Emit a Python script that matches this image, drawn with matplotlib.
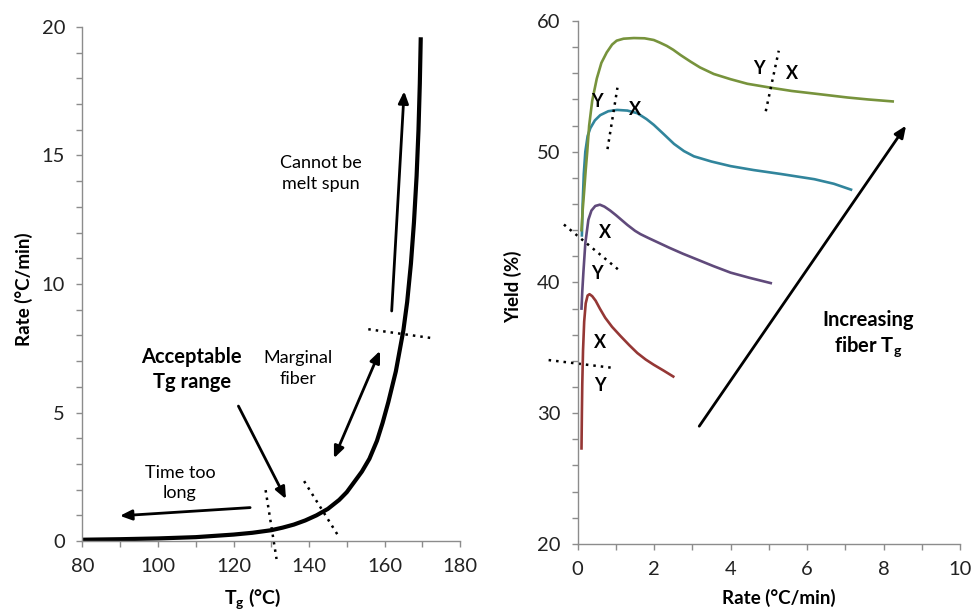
"""Melt-spinning window: rate vs Tg, and yield vs rate for increasing fiber Tg."""

import matplotlib
matplotlib.use("Agg")
import matplotlib.pyplot as plt

plt.rcParams["font.family"] = ["Lato", "DejaVu Sans"]

# left panel: rate needed vs fiber Tg
tg = [80, 90, 100, 110, 115, 120, 125, 130, 133, 136, 139, 142, 145, 148,
      150, 152, 154, 156, 158, 159.5, 161, 162, 163, 164, 165, 166, 167,
      167.8, 168.5, 169, 169.35, 169.6]
rate = [0.05, 0.07, 0.1, 0.15, 0.2, 0.25, 0.32, 0.42, 0.52, 0.64, 0.8, 1.0,
        1.25, 1.6, 1.9, 2.3, 2.7, 3.2, 3.9, 4.6, 5.4, 6.0, 6.6, 7.4, 8.2,
        9.3, 10.8, 12.4, 14.2, 16.0, 17.8, 19.6]

# right panel: yield curves, lowest Tg first
red_x = [0.10, 0.11, 0.12, 0.14, 0.17, 0.21, 0.26, 0.31, 0.38, 0.47, 0.58,
         0.72, 0.9, 1.12, 1.35, 1.56, 1.78, 1.99, 2.25, 2.5]
red_y = [27.3, 30.0, 32.2, 34.8, 37.0, 38.4, 39.0, 39.1, 38.95, 38.6, 38.0,
         37.3, 36.6, 35.9, 35.2, 34.6, 34.1, 33.7, 33.25, 32.8]
purple_x = [0.10, 0.12, 0.15, 0.20, 0.28, 0.36, 0.46, 0.58, 0.70, 0.85, 1.0,
            1.12, 1.3, 1.5, 1.64, 1.85, 2.07, 2.4, 2.75, 3.13, 3.55, 4.0,
            4.5, 5.05]
purple_y = [38.0, 39.3, 40.8, 43.0, 44.8, 45.5, 45.85, 45.95, 45.8, 45.5,
            45.15, 44.85, 44.4, 43.95, 43.7, 43.4, 43.1, 42.65, 42.2, 41.75,
            41.25, 40.75, 40.35, 39.95]
blue_x = [0.11, 0.13, 0.16, 0.20, 0.26, 0.33, 0.45, 0.59, 0.8, 1.03, 1.3,
          1.56, 1.8, 1.99, 2.25, 2.52, 2.78, 3.04, 3.5, 4.0, 4.6, 5.31, 6.19,
          6.7, 7.15]
blue_y = [43.6, 46.0, 48.3, 50.0, 51.2, 51.8, 52.4, 52.8, 53.1, 53.2, 53.15,
          52.95, 52.5, 52.06, 51.35, 50.6, 50.05, 49.65, 49.25, 48.9, 48.6,
          48.3, 47.9, 47.55, 47.1]
green_x = [0.10, 0.13, 0.17, 0.21, 0.25, 0.30, 0.38, 0.50, 0.62, 0.76, 0.9,
           1.02, 1.2, 1.47, 1.75, 1.99, 2.15, 2.33, 2.5, 2.69, 2.95, 3.2,
           3.56, 4.0, 4.44, 5.05, 5.6, 6.19, 7.06, 7.6, 8.24]
green_y = [44.0, 45.5, 47.0, 48.6, 50.0, 52.0, 53.9, 55.6, 56.8, 57.6, 58.2,
           58.5, 58.65, 58.7, 58.68, 58.55, 58.35, 58.1, 57.8, 57.4, 56.9,
           56.45, 55.95, 55.55, 55.2, 54.9, 54.65, 54.45, 54.15, 54.0, 53.85]
colors = ["#953735", "#604A7B", "#31859C", "#77933C"]

GRAY = "#8c8c8c"


def style_axes(ax):
    for side in ("top", "right"):
        ax.spines[side].set_visible(False)
    for side in ("left", "bottom"):
        ax.spines[side].set_color(GRAY)
        ax.spines[side].set_linewidth(1.0)
    ax.tick_params(direction="out", length=4.5, width=1, color=GRAY,
                   labelsize=14.5, pad=8, labelcolor="#222222")


fig = plt.figure(figsize=(9.74, 6.12), dpi=100)
ax1 = fig.add_axes([0.0847, 0.116, 0.3876, 0.8399])
ax2 = fig.add_axes([0.5931, 0.1114, 0.3925, 0.8542])

# ---- left panel ----
style_axes(ax1)
ax1.plot(tg, rate, color="black", lw=3.0, solid_capstyle="butt")
ax1.set_xlim(80, 180)
ax1.set_ylim(0, 20)
ax1.set_xticks(range(80, 181, 10))
ax1.set_xticklabels([str(v) if v % 20 == 0 else "" for v in range(80, 181, 10)])
ax1.set_yticks(range(0, 21))
ax1.set_yticklabels([str(v) if v % 5 == 0 else "" for v in range(0, 21)])
ax1.set_ylabel("Rate (°C/min)", fontsize=13.5, fontweight="bold")
ax1.yaxis.set_label_coords(-0.13, 0.49)
ax1.set_xlabel("T$_\\mathregular{g}$ (°C)", fontsize=14, fontweight="bold")
ax1.xaxis.set_label_coords(0.452, -0.09)

arrow = dict(arrowstyle="-|>,head_length=0.7,head_width=0.3", color="black",
             lw=2, shrinkA=0, shrinkB=0)
ax1.annotate("", xy=(165.2, 17.5), xytext=(161.9, 8.95), arrowprops=arrow)
ax1.annotate("", xy=(89.9, 0.98), xytext=(124.4, 1.3), arrowprops=arrow)
ax1.annotate("", xy=(133.9, 1.63), xytext=(121.3, 5.25), arrowprops=arrow)
ax1.annotate("", xy=(146.6, 3.22), xytext=(158.8, 7.4),
             arrowprops=dict(arrow, arrowstyle="<|-|>,head_length=0.7,head_width=0.3"))

dots = dict(color="black", lw=1.8, linestyle=(0, (1, 2)), clip_on=False)
ax1.plot([155.7, 172.8], [8.24, 7.89], **dots)
ax1.plot([128.5, 131.4], [1.98, -0.7], **dots)
ax1.plot([138.7, 147.8], [2.33, 0.19], **dots)

ax1.text(143.2, 14.3, "Cannot be\nmelt spun", ha="center", va="center",
         fontsize=13, linespacing=1.35)
ax1.text(108.9, 6.67, "Acceptable\nTg range", ha="center", va="center",
         fontsize=14.5, fontweight="bold", linespacing=1.3)
ax1.text(137.1, 6.71, "Marginal\nfiber", ha="center", va="center",
         fontsize=13, linespacing=1.35)
ax1.text(105.8, 2.26, "Time too\nlong", ha="center", va="center",
         fontsize=13, linespacing=1.35)

# ---- right panel ----
style_axes(ax2)
for xs, ys, c in zip([red_x, purple_x, blue_x, green_x],
                     [red_y, purple_y, blue_y, green_y], colors):
    ax2.plot(xs, ys, color=c, lw=1.9)
ax2.set_xlim(0, 10)
ax2.set_ylim(20, 60)
ax2.set_xticks(range(0, 11))
ax2.set_xticklabels([str(v) if v % 2 == 0 else "" for v in range(0, 11)])
ax2.set_yticks(range(20, 61, 2))
ax2.set_yticklabels([str(v) if v % 10 == 0 else "" for v in range(20, 61, 2)])
ax2.set_ylabel("Yield (%)", fontsize=13.5, fontweight="bold")
ax2.yaxis.set_label_coords(-0.145, 0.492)
ax2.set_xlabel("Rate (°C/min)", fontsize=13.5, fontweight="bold")
ax2.xaxis.set_label_coords(0.527, -0.086)

ax2.plot([4.92, 5.26], [53.1, 57.73], **dots)
ax2.plot([0.78, 1.04], [50.2, 54.9], **dots)
ax2.plot([-0.36, 1.06], [44.43, 40.99], **dots)
ax2.plot([-0.76, 0.9], [34.06, 33.47], **dots)

lbl = dict(ha="center", va="center", fontsize=13, fontweight="bold")
ax2.text(4.75, 56.4, "Y", **lbl)
ax2.text(5.62, 56.0, "X", **lbl)
ax2.text(0.51, 53.83, "Y", **lbl)
ax2.text(1.5, 53.2, "X", **lbl)
ax2.text(0.71, 43.8, "X", **lbl)
ax2.text(0.5, 40.7, "Y", **lbl)
ax2.text(0.59, 35.37, "X", **lbl)
ax2.text(0.58, 32.09, "Y", **lbl)

ax2.annotate("", xy=(8.59, 52.0), xytext=(3.18, 29.0), arrowprops=arrow)
ax2.text(7.59, 36.0, "Increasing\nfiber T$_\\mathregular{g}$", ha="center",
         va="center", fontsize=14.5, fontweight="bold", linespacing=1.25)

fig.savefig("out.png", dpi=100)
